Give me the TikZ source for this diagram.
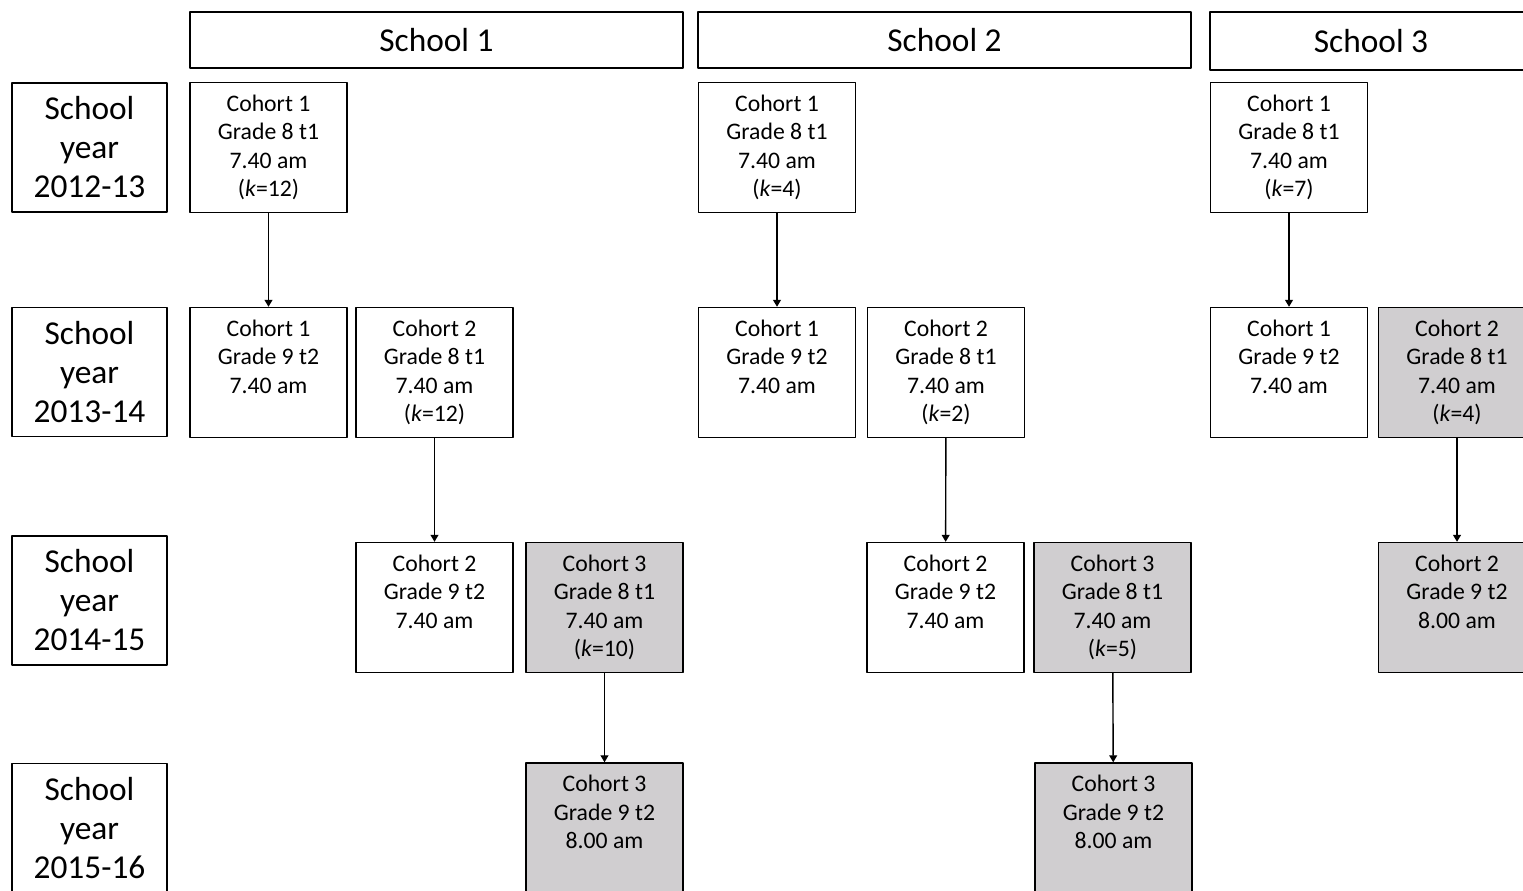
\documentclass[tikz,border=0pt]{standalone}
\usepackage{fontspec}
\setmainfont{Carlito}
\usetikzlibrary{arrows.meta}
\definecolor{shade}{RGB}{208,206,208}
\tikzset{
  box/.style={draw, line width=0.8pt, inner sep=0pt, align=center},
  head/.style={box, minimum height=1.12cm, font=\fontsize{19}{22}\selectfont},
  year/.style={box, minimum width=3.1cm, minimum height=2.58cm, font=\fontsize{19}{22.2}\selectfont},
  cell/.style={box, minimum width=3.14cm, minimum height=2.6cm, font=\fontsize{13.5}{16.2}\selectfont},
  late/.style={cell, fill=shade},
  link/.style={->, line width=0.8pt}
}
\newcommand{\blankline}{\vphantom{(\textit{k}=1)}}
\begin{document}
\begin{tikzpicture}[x=0.02cm, y=-0.02cm, >={Triangle[length=4pt,width=4.5pt]}, line join=round]
	\useasboundingbox (0,0) rectangle (1523,891);
	\clip (0,0) rectangle (1523,891);
	% schools
	\node[head, minimum width=9.86cm] (h1) at (436.5,40) {School 1};
	\node[head, minimum width=9.86cm] (h2) at (944.5,40) {School 2};
	\node[head, minimum width=6.44cm, minimum height=1.16cm] (h3) at (1371,41) {School 3};
	% school years
	\node[year] (y1) at (89.5,147.5) {School\\year\\2012-13};
	\node[year] (y2) at (89.5,372) {School\\year\\2013-14};
	\node[year] (y3) at (89.5,600.5) {School\\year\\2014-15};
	\node[year] (y4) at (89.5,828) {School\\year\\2015-16};
	% school 1
	\node[cell] (s1r1a) at (268.5,147.5) {Cohort 1\\Grade 8 t1\\7.40 am\\(\textit{k}=12)};
	\node[cell] (s1r2a) at (268.5,372.5) {Cohort 1\\Grade 9 t2\\7.40 am\\\blankline};
	\node[cell] (s1r2b) at (434.5,372.5) {Cohort 2\\Grade 8 t1\\7.40 am\\(\textit{k}=12)};
	\node[cell] (s1r3b) at (434.5,607.5) {Cohort 2\\Grade 9 t2\\7.40 am\\\blankline};
	\node[late] (s1r3c) at (604.5,607.5) {Cohort 3\\Grade 8 t1\\7.40 am\\(\textit{k}=10)};
	\node[late] (s1r4c) at (604.5,828) {Cohort 3\\Grade 9 t2\\8.00 am\\\blankline};
	% school 2
	\node[cell] (s2r1a) at (777,147.5) {Cohort 1\\Grade 8 t1\\7.40 am\\(\textit{k}=4)};
	\node[cell] (s2r2a) at (777,372.5) {Cohort 1\\Grade 9 t2\\7.40 am\\\blankline};
	\node[cell] (s2r2b) at (946,372.5) {Cohort 2\\Grade 8 t1\\7.40 am\\(\textit{k}=2)};
	\node[cell] (s2r3b) at (945.5,607.5) {Cohort 2\\Grade 9 t2\\7.40 am\\\blankline};
	\node[late] (s2r3c) at (1112.5,607.5) {Cohort 3\\Grade 8 t1\\7.40 am\\(\textit{k}=5)};
	\node[late] (s2r4c) at (1113.5,828) {Cohort 3\\Grade 9 t2\\8.00 am\\\blankline};
	% school 3
	\node[cell] (s3r1a) at (1289,147.5) {Cohort 1\\Grade 8 t1\\7.40 am\\(\textit{k}=7)};
	\node[cell] (s3r2a) at (1289,372.5) {Cohort 1\\Grade 9 t2\\7.40 am\\\blankline};
	\node[late] (s3r2b) at (1457,372.5) {Cohort 2\\Grade 8 t1\\7.40 am\\(\textit{k}=4)};
	\node[late] (s3r3b) at (1457,607.5) {Cohort 2\\Grade 9 t2\\8.00 am\\\blankline};
	% follow-up
	\draw[link] (s1r1a) -- (s1r2a);
	\draw[link] (s1r2b) -- (s1r3b);
	\draw[link] (s1r3c) -- (s1r4c);
	\draw[link] (s2r1a) -- (s2r2a);
	\draw[link] (s2r2b) -- (s2r3b);
	\draw[link] (s2r3c) -- (s2r4c);
	\draw[link] (s3r1a) -- (s3r2a);
	\draw[link] (s3r2b) -- (s3r3b);
\end{tikzpicture}
\end{document}
